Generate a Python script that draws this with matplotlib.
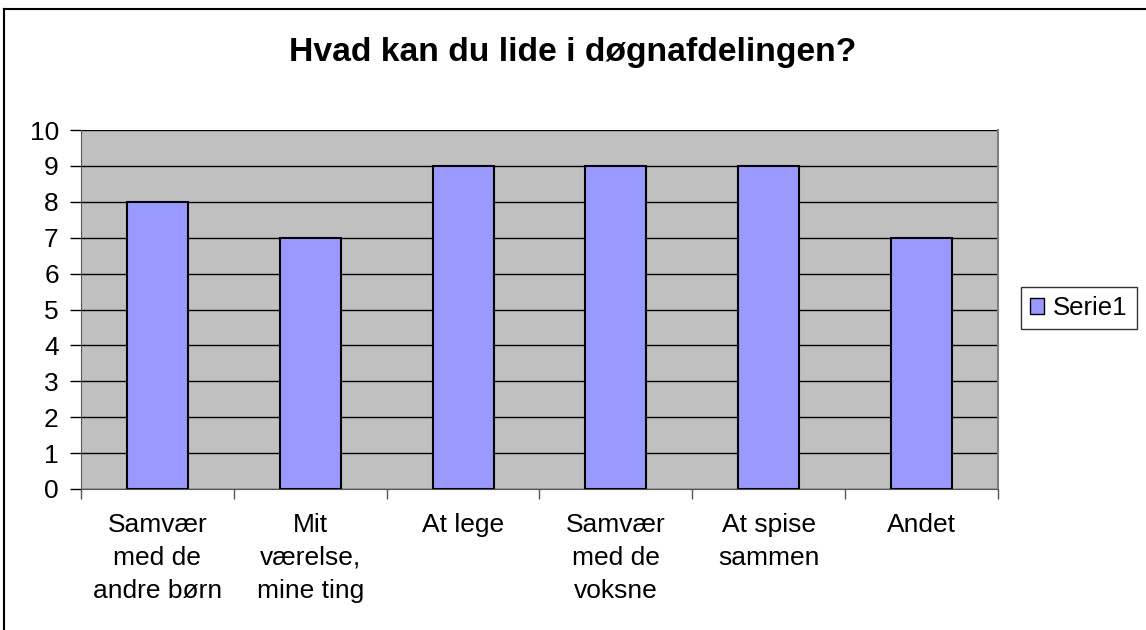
import matplotlib.pyplot as plt
import numpy as np
from matplotlib.lines import Line2D

categories = ['Samvær\nmed de\nandre børn', 'Mit\nværelse,\nmine ting', 'At lege',
              'Samvær\nmed de\nvoksne', 'At spise\nsammen', 'Andet']
values = [8, 7, 9, 9, 9, 7]
series_name = 'Serie1'
title = 'Hvad kan du lide i døgnafdelingen?'

plt.rcParams['font.family'] = ['Liberation Sans', 'DejaVu Sans']

fig = plt.figure(figsize=(11.46, 6.3), dpi=100)
W, H = 1146, 630
ax = fig.add_axes([81 / W, 1 - 489 / H, (998 - 81) / W, (489 - 130) / H])
ax.set_facecolor('#C0C0C0')

x = np.arange(len(categories))
ax.bar(x, values, width=0.4, color='#9999FF', edgecolor='black', linewidth=1.5,
       zorder=3, label=series_name)

ax.set_xlim(-0.5, len(categories) - 0.5)
ax.set_ylim(0, 10)
ax.set_yticks(range(0, 11))
ax.yaxis.grid(True, color='black', linewidth=1, zorder=1)
ax.set_xticks(x)
ax.set_xticklabels(categories, fontsize=19, linespacing=1.48, va='top')
ax.tick_params(axis='x', length=0, pad=17)
ax.set_xticks(np.arange(len(categories) + 1) - 0.5, minor=True)
ax.tick_params(axis='x', which='minor', length=7, width=1, direction='out', color='#555555')
ax.tick_params(axis='y', labelsize=19, length=8, width=1, direction='out', pad=8)

ax.spines['top'].set_visible(False)
ax.spines['right'].set_color('#808080')
ax.spines['right'].set_linewidth(1.5)
ax.spines['left'].set_color('#555555')
ax.spines['bottom'].set_color('#555555')

fig.text(0.5, 1 - 52 / H, title, fontsize=24.3, fontweight='bold',
         ha='center', va='center')

handle = plt.Rectangle((0, 0), 1, 1, facecolor='#9999FF', edgecolor='black', linewidth=1)
leg = fig.legend([handle], [series_name], loc='center', bbox_to_anchor=(1079 / W, 1 - 308 / H),
                 fontsize=18.5, frameon=True, fancybox=False, handlelength=0.55,
                 handleheight=0.55, handletextpad=0.35, borderpad=0.35, borderaxespad=0)
leg.get_frame().set_edgecolor('black')
leg.get_frame().set_linewidth(1)

# outer chart border (top and left edges visible)
fig.add_artist(Line2D([4 / W, 1], [1 - 9 / H, 1 - 9 / H], color='black', linewidth=1.5,
                      transform=fig.transFigure))
fig.add_artist(Line2D([4 / W, 4 / W], [0, 1 - 9 / H], color='black', linewidth=1.5,
                      transform=fig.transFigure))

fig.savefig('out.png', dpi=100)
